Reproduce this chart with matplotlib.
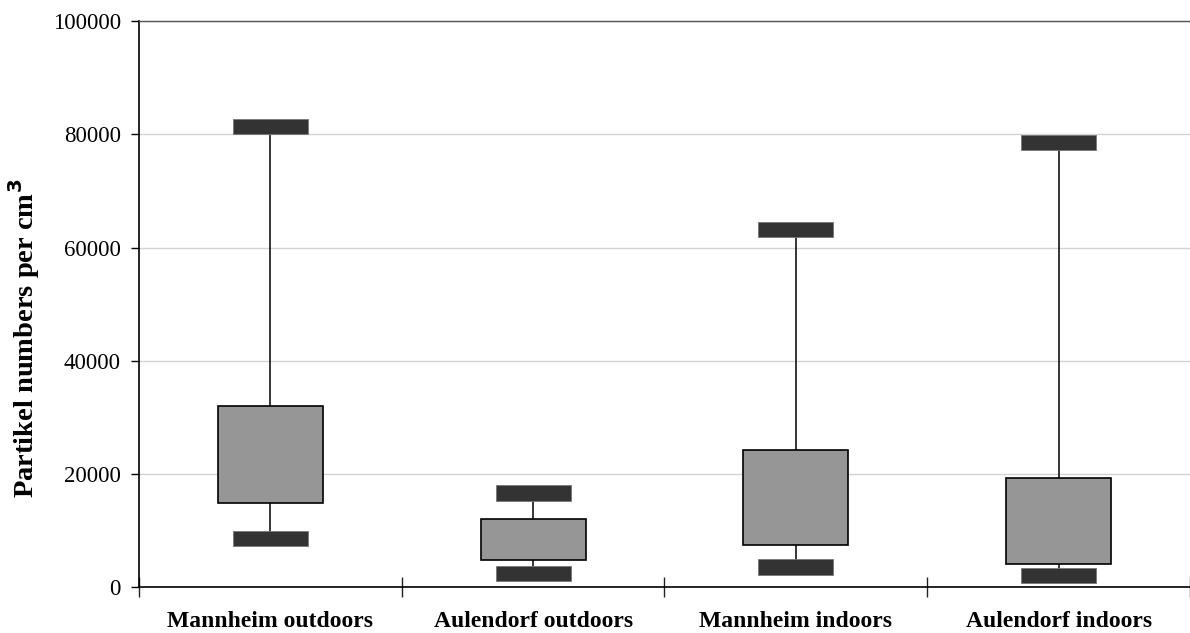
import numpy as np
import matplotlib.pyplot as plt

plt.rcParams['font.family'] = ['Liberation Serif', 'DejaVu Serif']

sites = ['Mannheim outdoors', 'Aulendorf outdoors', 'Mannheim indoors', 'Aulendorf indoors']
low = [8700, 2500, 3600, 2100]
q1 = [14900, 4800, 7450, 4200]
q3 = [32000, 12100, 24200, 19400]
high = [81400, 16700, 63200, 78550]

x = np.arange(len(sites))
cap_h = 2700

fig = plt.figure(figsize=(11.9, 6.33), dpi=100)
ax = fig.add_axes([0.1168, 0.0719, 0.8832, 0.8949])

# whiskers go under the boxes and the thick end markers
ax.vlines(x, low, high, color='black', lw=1.1, zorder=2)
ax.bar(x, np.array(q3) - np.array(q1), bottom=q1, width=0.40,
       color='#969696', edgecolor='black', lw=1.2, zorder=3)
for vals in (low, high):
    ax.bar(x, cap_h, bottom=np.array(vals) - cap_h / 2, width=0.285,
           color='#333333', edgecolor='#777777', lw=0.6, zorder=4)

ax.set_xlim(-0.5, 3.5)
ax.set_ylim(0, 100000)
ax.set_yticks(np.arange(0, 100001, 20000))
ax.yaxis.grid(True, color='#d2d2d2', lw=1.0, zorder=0)
ax.set_axisbelow(True)

ax.set_xticks(x)
ax.set_xticklabels(sites, fontsize=17, fontweight='bold')
ax.set_xticks(np.arange(-0.5, 3.6, 1.0), minor=True)
ax.tick_params(axis='x', which='major', length=0, pad=17)
ax.tick_params(axis='x', which='minor', direction='inout', length=14, width=1, color='#222222')
ax.tick_params(axis='y', labelsize=16.5, length=6, width=1, pad=7)

ax.set_ylabel('Partikel numbers per cm$^\\mathbf{3}$', fontsize=20.5, fontweight='bold')
ax.yaxis.set_label_coords(-0.092, 0.44)

ax.spines['right'].set_visible(False)
ax.spines['top'].set_color('#555555')
ax.spines['top'].set_linewidth(1.0)
ax.spines['left'].set_linewidth(1.2)
ax.spines['bottom'].set_linewidth(1.2)

fig.savefig('out.png', dpi=100)
